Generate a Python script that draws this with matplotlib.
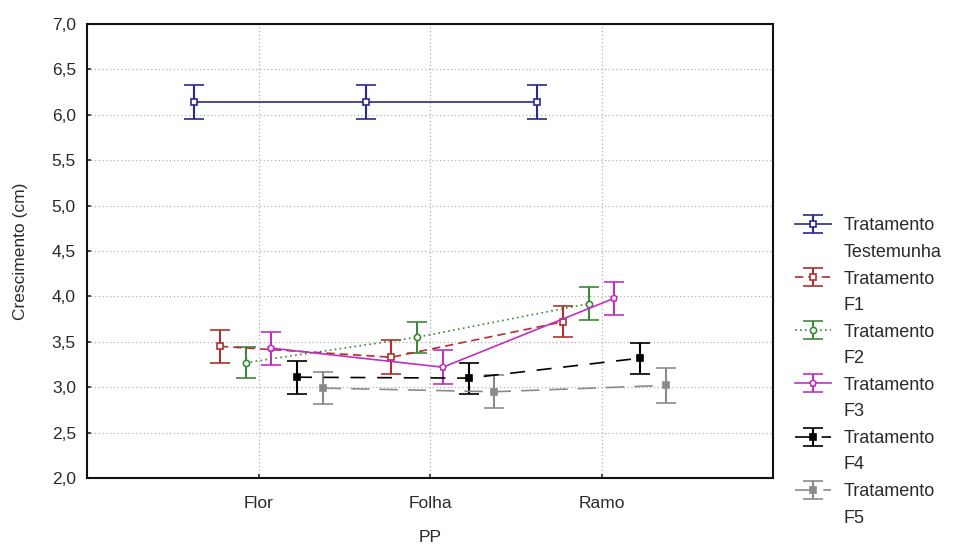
import matplotlib
matplotlib.use("Agg")
import matplotlib.pyplot as plt
import numpy as np
from matplotlib.ticker import FuncFormatter, MultipleLocator

plt.rcParams['font.family'] = ['Liberation Sans', 'DejaVu Sans']

categories = ["Flor", "Folha", "Ramo"]
labels = ["Tratamento\nTestemunha", "Tratamento\nF1", "Tratamento\nF2",
          "Tratamento\nF3", "Tratamento\nF4", "Tratamento\nF5"]
testemunha = [6.14, 6.14, 6.14]
f1 = [3.45, 3.33, 3.72]
f2 = [3.27, 3.55, 3.92]
f3 = [3.43, 3.22, 3.98]
f4 = [3.11, 3.10, 3.32]
f5 = [2.99, 2.95, 3.02]
err_testemunha = [0.19, 0.19, 0.19]
err_f1 = [0.18, 0.19, 0.17]
err_f2 = [0.17, 0.17, 0.18]
err_f3 = [0.18, 0.19, 0.18]
err_f4 = [0.18, 0.17, 0.17]
err_f5 = [0.18, 0.18, 0.19]

series = [testemunha, f1, f2, f3, f4, f5]
errors = [err_testemunha, err_f1, err_f2, err_f3, err_f4, err_f5]
colors = ["#2a2a8a", "#b03030", "#3a8a3a", "#c030c0", "#000000", "#8a8a8a"]
linestyles = ["-", (0, (5, 3)), (0, (1, 2)), "-", (0, (9, 7)), (0, (11, 6))]
markers = ["s", "s", "o", "p", "s", "s"]
mfc = ["white", "white", "white", "white", "#000000", "#8a8a8a"]

FS = 12.5
LFS = 13
TXT = "#2a2a2a"

fig = plt.figure(figsize=(9.71, 5.47), dpi=100)
ax = fig.add_axes([87/971, 1-478/547, (773-87)/971, (478-24)/547])

x = np.arange(len(categories))
offsets = np.linspace(-0.375, 0.375, 6)
for s, e, c, ls, m, fc, lab, off in zip(series, errors, colors, linestyles, markers, mfc, labels, offsets):
    ax.errorbar(x + off, s, yerr=e, color=c, ls=ls, lw=1.2, marker=m, ms=4.5,
                mfc=fc, mec=c, mew=1.2, capsize=7, capthick=1.5, elinewidth=1.5,
                label=lab)

ax.set_xlim(-1, 3)
ax.set_ylim(2.0, 7.0)
ax.set_xticks(x)
ax.set_xticklabels(categories)
ax.yaxis.set_major_locator(MultipleLocator(0.5))
ax.yaxis.set_major_formatter(FuncFormatter(lambda v, p: f"{v:.1f}".replace(".", ",")))
ax.grid(True, ls=(0, (1, 2)), color="#b0b0b0", lw=0.9)
ax.set_axisbelow(True)
ax.tick_params(direction="in", length=3, width=1.2, labelsize=FS, colors=TXT)
ax.tick_params(axis="y", pad=8)
ax.tick_params(axis="x", pad=13)
for sp in ax.spines.values():
    sp.set_linewidth(1.5)
    sp.set_color("#111111")

ax.set_xlabel("PP", fontsize=FS, color=TXT, labelpad=14)
ax.set_ylabel("Crescimento (cm)", fontsize=FS, color=TXT, labelpad=17)

leg = ax.legend(loc="upper left", bbox_to_anchor=(1.032, 0.574), frameon=False,
                fontsize=LFS, handlelength=2.0, handletextpad=0.7,
                labelspacing=0.56, borderaxespad=0, borderpad=0)
for t in leg.get_texts():
    t.set_color(TXT)
    t.set_linespacing(1.7)
# align each legend handle with the first line of its two-line label
for col in leg._legend_handle_box.get_children():
    for row in col.get_children():
        row.align = "top"

fig.savefig("out.png", dpi=100)
